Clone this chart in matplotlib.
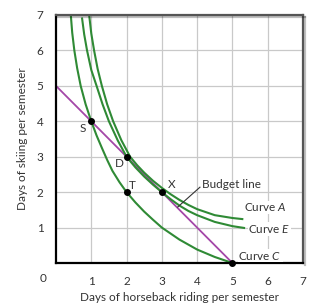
import matplotlib
matplotlib.use("Agg")
import matplotlib.pyplot as plt
import matplotlib.patheffects as pe

plt.rcParams['font.family'] = ['Lato', 'DejaVu Sans']
plt.rcParams['mathtext.fontset'] = 'custom'
plt.rcParams['mathtext.it'] = 'Lato:italic'

# indifference curves
curveC_x = [0.42, 0.46, 0.52, 0.6, 0.7, 0.84, 1.0, 1.15, 1.3, 1.45, 1.6, 1.8, 2.0, 2.25, 2.5, 2.75, 3.0, 3.5, 4.0, 4.5, 5.0]
curveC_y = [7.0, 6.5, 6.0, 5.5, 5.0, 4.48, 4.0, 3.6, 3.25, 2.91, 2.6, 2.28, 2.0, 1.71, 1.45, 1.22, 1.0, 0.66, 0.38, 0.17, 0.0]

curveE_x = [0.74, 0.8, 0.88, 1.0, 1.15, 1.32, 1.5, 1.75, 2.0, 2.25, 2.5, 2.75, 3.0, 3.25, 3.5, 3.75, 4.0, 4.5, 5.0, 5.33]
curveE_y = [6.9, 6.45, 6.0, 5.45, 5.0, 4.48, 4.0, 3.46, 3.0, 2.7, 2.44, 2.21, 2.0, 1.8, 1.62, 1.47, 1.35, 1.16, 1.04, 0.99]

curveA_x = [0.94, 1.0, 1.08, 1.18, 1.3, 1.45, 1.62, 1.85, 2.1, 2.3, 2.5, 2.75, 3.0, 3.25, 3.5, 3.75, 4.0, 4.5, 5.0, 5.28]
curveA_y = [7.0, 6.48, 6.0, 5.48, 5.0, 4.48, 4.0, 3.47, 3.0, 2.76, 2.55, 2.32, 2.12, 1.94, 1.78, 1.64, 1.52, 1.35, 1.27, 1.24]

budget_x = [0, 5]
budget_y = [5, 0]

pt_x = [1, 2, 2, 3, 5]
pt_y = [4, 3, 2, 2, 0]

ticks = [1, 2, 3, 4, 5, 6, 7]

green = "#2f8a35"
purple = "#a447a8"
txt = "#333333"

fig = plt.figure(figsize=(3.10, 3.03), dpi=100)
ax = fig.add_axes([0.1806, 0.132, 0.7968, 0.8185])
ax.set_xlim(0, 7)
ax.set_ylim(0, 7)
ax.set_xticks(ticks)
ax.set_yticks(ticks)
ax.grid(True, color="#c9c9c9", lw=0.9)
ax.set_axisbelow(True)
ax.tick_params(length=0, labelsize=8.5, pad=9, colors=txt)

for s in ["left", "bottom"]:
    ax.spines[s].set_linewidth(1.6)
    ax.spines[s].set_color("black")
for s in ["top", "right"]:
    ax.spines[s].set_linewidth(1.6)
    ax.spines[s].set_color("#555555")
    ax.spines[s].set_path_effects([pe.SimpleLineShadow(offset=(1.5, -1.5), alpha=0.25), pe.Normal()])

ax.plot(budget_x, budget_y, color=purple, lw=1.3)
ax.plot(curveC_x, curveC_y, color=green, lw=1.5)
ax.plot(curveE_x, curveE_y, color=green, lw=1.5)
ax.plot(curveA_x, curveA_y, color=green, lw=1.5)
ax.plot(pt_x, pt_y, 'o', color="black", ms=4, clip_on=False, zorder=5)

fs = 8.5
ax.text(0.77, 3.81, "S", fontsize=fs, ha="center", va="center", color=txt)
ax.text(1.81, 2.82, "D", fontsize=fs, ha="center", va="center", color=txt)
ax.text(2.17, 2.18, "T", fontsize=fs, ha="center", va="center", color=txt)
ax.text(3.28, 2.22, "X", fontsize=fs, ha="center", va="center", color=txt)

ax.text(4.13, 2.22, "Budget line", fontsize=fs, ha="left", va="center", color=txt)
ax.plot([4.08, 3.45], [2.14, 1.58], color=txt, lw=0.8)

box = dict(facecolor="white", edgecolor="none", pad=0.5)
ax.text(5.33, 1.57, "Curve $\\mathit{A}$", fontsize=fs, ha="left", va="center", color=txt, bbox=box)
ax.text(5.45, 0.96, "Curve $\\mathit{E}$", fontsize=fs, ha="left", va="center", color=txt, bbox=box)
ax.text(5.17, 0.21, "Curve $\\mathit{C}$", fontsize=fs, ha="left", va="center", color=txt, bbox=box)

ax.text(-0.37, -0.43, "0", fontsize=8.5, ha="center", va="center", color=txt, clip_on=False)

ax.set_xlabel("Days of horseback riding per semester", fontsize=8.5, color=txt, labelpad=4)
ax.set_ylabel("Days of skiing per semester", fontsize=8.5, color=txt, labelpad=6)

fig.savefig("out.png", dpi=100)
